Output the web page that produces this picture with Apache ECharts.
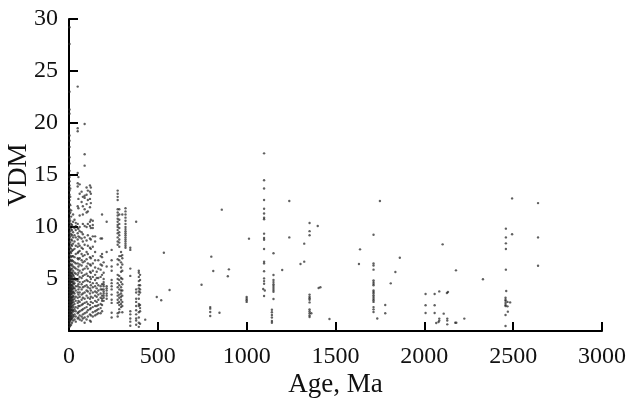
<!DOCTYPE html>
<html><head><meta charset="utf-8">
<style>html,body{margin:0;padding:0;background:#fff}#c{width:629px;height:403px}</style>
<script src="https://cdn.jsdelivr.net/npm/echarts@6/dist/echarts.min.js"></script>
</head><body><div id="c"></div>
<script>
const xTicks = [0, 500, 1000, 1500, 2000, 2500, 3000];
const yTicks = [5, 10, 15, 20, 25, 30];
const xTitle = 'Age, Ma';
const yTitle = 'VDM';

// Vertical runs of samples: one age, several VDM values
const runAges = [3, 7, 12, 17, 23, 31, 38, 49, 53, 60, 71, 78, 88, 99, 106, 118, 123, 134, 147, 156, 165, 178, 186, 195, 212, 240, 274, 283, 293, 300, 318, 345, 378, 393, 400, 6, 11, 18, 26];
const runValues = [
 [0.4,0.7,1,1.3,1.6,1.9,2.2,2.5,2.8,3.1,3.4,3.7,4,4.3,4.6,4.9,5.2,5.5,5.8,6.1,6.5,6.9,7.3,7.7,8.1,8.6,9,9.4,9.9,10.4,10.8,11.3,11.7,12.2,12.6,13.1,13.5,14,14.4,14.8,15.4,16.1,16.7,17.7,18.3,18.8,20.9,21.3,23,27.6,29.2],
 [0.5,0.9,1.2,1.5,1.8,2.1,2.4,2.7,3,3.3,3.6,3.9,4.2,4.5,4.8,5.1,5.4,5.7,6,6.4,6.8,7.2,7.6,8,8.5,9.1,9.6,10.1,10.6,11.4,12.1,12.9,13.7],
 [0.6,1.1,1.4,1.7,2,2.3,2.6,2.9,3.2,3.5,3.8,4.1,4.4,4.7,5,5.3,5.6,5.9,6.3,6.7,7.1,7.5,7.9,8.3,8.8,9.3,9.8,10.3,11,11.6],
 [0.8,1.2,1.6,2,2.4,2.8,3.2,3.6,4,4.4,4.8,5.2,5.6,6,6.4,6.8,7.2,7.7,8.2,8.7,9.2,9.7,10.2],
 [1,1.5,2,2.5,3,3.4,3.8,4.2,4.6,5,5.4,5.8,6.2,6.7,7.2,7.8,8.4,9,9.5,10,10.5,11.2],
 [1.1,1.6,2.1,2.6,3.1,3.6,4.1,4.6,5.1,5.6,6.1,6.6,7.1,7.9,8.6,9.2,9.9,10.7],
 [0.9,1.4,1.9,2.3,2.9,3.3,3.9,4.3,4.9,5.5,6,6.5,7.4,8.2,9,9.7,10.1,10.4],
 [1.2,1.7,2.2,2.7,3.2,3.7,4.3,4.8,5.4,5.9,6.5,7,7.5,8.1,8.8,9.4,9.9,10.3,12,13.9,14.2,15.2,19.2,19.5,23.5],
 [1.3,1.8,2.4,2.9,3.5,4,4.5,5,5.6,6.2,6.9,7.6,8.4,9.1,9.8,11.8,12.7,14.8],
 [1.1,1.5,1.9,2.4,2.8,3.3,3.7,4.2,4.7,5.2,5.8,6.4,7,7.7,8.2,9,9.6,10,11.1,13.2,14.1],
 [1,1.4,2,2.5,3,3.5,4,4.5,5.1,5.6,6.3,6.8,7.4,8,8.9,9.5,12.4,13.4],
 [1.2,1.6,2.1,2.6,3.2,3.6,4.2,4.7,5.3,5.9,6.6,7.2,7.9,8.6,9.3,10.3,11.2,12,12.9],
 [0.8,1.3,1.7,2.2,2.7,3.1,3.7,4.3,4.8,5.4,6,6.7,7.3,8.3,9,10.1,11.7,12.8,13,15.9,17,19.9],
 [1.1,1.8,2.3,2.8,3.4,3.9,4.4,4.9,5.5,6.2,6.9,7.6,8.7,10,11.4,12.2,13.1,13.8],
 [1.4,2,2.6,3.2,3.8,4.2,4.8,5.3,6,6.5,7.4,8.2,9.2,10.3,11.5,12.6,13.5],
 [1,1.6,2.1,2.5,3.1,3.6,4.1,4.7,5.2,5.7,6.4,7.1,8,8.9,10.1,10.5,11.9,12.7,13.4,14],
 [0.9,1.5,2.2,2.8,3.3,3.9,4.4,5,5.6,6.3,7,7.9,8.8,9.9,10.7,12.3,13.2,13.8],
 [1.4,1.8,2.3,2.7,3.2,3.7,4.2,4.6,5.2,5.8,6.5,7.2,8.1,9.1,9.9,10.2,10.6],
 [1.5,1.9,2.4,2.9,3.4,3.8,4.3,4.9,5.4,6.1,6.8,7.6,8.6,9.1],
 [1.6,2,2.4,2.8,3.3,3.7,4.1,4.6,5.1,5.7],
 [1.7,2.1,2.5,3,3.5,3.9,4.4,5.1,6,6.8],
 [1.7,2.2,2.6,3.2,3.6,4,4.3,5.2,5.9,6.4,7.2,8.9],
 [1.9,2.5,2.9,3.1,3.4,4,4.5,5.4,6.3,7.1,7.4,8.9,11.2],
 [2.9,3.2,3.4,3.6,3.8,4,4.3,4.5,4.7,5,5.6,6.6],
 [3.1,3.4,3.6,3.9,4.1,4.3,6.2,7.6,10.5],
 [1.3,1.75,2.7,3,3.5,4,4.3,4.6,4.9,5.8,6.2,6.8,7.8],
 [1.4,1.7,2.7,3,3.4,3.7,4.2,4.6,5,5.4,6.4,6.9,8.3,8.6,9,9.4,9.7,10,10.2,10.5,10.8,11.1,11.4,11.7,12.6,12.9,13.2,13.5],
 [1.8,2.1,2.5,2.8,3.2,3.5,4,4.4,4.9,5.3,6.8,7.2,8.1,8.5,8.8,9.2,9.5,9.9,10.3,10.7,11.2,11.7],
 [2.3,2.6,3,3.3,3.6,3.9,4.2,4.7,5.1,5.7,6.1,6.6,7.2,7.6],
 [1.8,2.4,2.8,3.4,3.9,4.5,5,5.8,6.4,7,7.3,11.2],
 [8,8.2,8.4,8.6,8.8,9,9.2,9.4,9.6,9.8,10,10.3,10.6,10.9,11.2,11.5,11.8],
 [0.5,0.9,1.2,1.6,1.9,5.3,6,7.8,8],
 [0.6,1,1.2,1.6,2,2.4,2.8,3.1,3.7,4,10.5],
 [0.4,0.8,1.3,1.8,2.4,2.6,3.1,3.5,3.8,4.1,4.4,4.8,5.2,5.6,5.8],
 [0.7,1.9,2.2,2.5,3.7,4,4.4,4.9,5.4],
 [1.05,1.35,1.65,1.95,2.25,2.55,2.85,3.15,3.45,3.75,4.05,4.35,4.65,4.95,5.25,5.55,5.85],
 [1.15,1.45,1.75,2.05,2.35,2.65,2.95,3.25,3.55,3.85,4.15,4.45,4.75,5.05,5.35],
 [1.3,1.8,2.2,2.7,3,3.3,3.7,4,4.3,4.7,5,5.5],
 [1.4,1.9,2.3,2.8,3.3,3.7,4.1,4.5,4.8,5.3]
];

// Sparse older samples
const oldAges = [429,494,519,534,566,746,795,795,795,795,801,812,847,860,894,900,1000,1000,1000,1000,1013,1098,1098,1098,1098,1098,1098,1098,1098,1098,1098,1098,1098,1098,1098,1098,1098,1098,1098,1093,1102,1098,1142,1142,1142,1142,1142,1142,1151,1151,1151,1151,1151,1151,1151,1151,1151,1151,1200,1240,1240,1303,1324,1324,1354,1354,1354,1354,1354,1354,1354,1354,1354,1354,1354,1354,1354,1364,1400,1405,1415,1466,1632,1638,1714,1714,1714,1714,1714,1714,1714,1714,1714,1714,1714,1714,1714,1714,1714,1714,1714,1714,1714,1735,1750,1780,1780,1811,1837,1862,2007,2007,2007,2058,2058,2058,2067,2080,2084,2084,2084,2103,2109,2127,2133,2129,2129,2129,2174,2178,2180,2225,2330,2457,2457,2457,2457,2457,2457,2457,2457,2459,2459,2459,2459,2459,2461,2468,2468,2470,2483,2494,2494,2640,2640,2640];
const oldValues = [1.09,3.27,2.95,7.53,3.94,4.45,2.3,2.15,1.83,1.44,7.15,5.77,1.76,11.67,5.26,5.93,3.27,3.1,2.95,2.8,8.88,17.08,14.5,13.7,12.6,11.76,11.3,10.9,10.74,9.36,8.94,8.78,7.88,6.67,6.5,5.74,5.06,4.8,4.55,4.04,3.9,3.37,2.05,1.8,1.55,1.3,0.96,0.8,7.47,5.38,4.9,4.7,4.5,4.33,4.13,3.94,3.78,3.08,5.87,12.5,9,6.44,6.67,8.4,10.38,9.6,9.2,3.5,3.3,3.15,3,2.75,2.08,1.9,1.7,1.5,1.35,1.7,10.1,4.13,4.2,1.15,6.44,7.85,9.26,6.5,6.3,5.9,4.87,4.7,4.55,4.4,3.9,3.75,3.6,3.43,3.27,3.1,2.95,2.8,2.3,2.08,1.83,1.2,12.5,2.5,1.7,4.58,5.67,7.05,3.56,2.47,1.73,3.56,2.47,1.73,0.77,0.87,3.81,1.19,1,8.33,1.67,3.65,3.75,1.19,1,0.64,0.8,5.83,0.8,1.19,4.97,3.2,3,2.9,2.7,2.5,2.4,1.54,0.48,9.84,9,8.43,7.88,5.9,3.85,2.8,2.37,1.86,2.75,12.75,9.3,12.3,9,6.28];

const points = [];
runAges.forEach((a, i) => runValues[i].forEach(v => points.push([a, v])));
oldAges.forEach((a, i) => points.push([a, oldValues[i]]));

const font = '"Liberation Serif","Times New Roman",serif';
const chart = echarts.init(document.getElementById('c'), null, {renderer: 'canvas'});
chart.setOption({
  animation: false,
  backgroundColor: '#fff',
  grid: {left: 69, right: 27, top: 19, bottom: 72, outerBoundsMode: 'none', containLabel: false},
  xAxis: {
    type: 'value', min: xTicks[0], max: xTicks[xTicks.length - 1], interval: 500,
    splitLine: {show: false},
    axisLine: {show: true, lineStyle: {color: '#000', width: 2}},
    axisTick: {show: true, inside: true, length: 9, lineStyle: {color: '#000', width: 2}},
    axisLabel: {color: '#111', fontFamily: font, fontSize: 24, margin: 14, hideOverlap: false, formatter: v => String(v)},
    name: xTitle, nameLocation: 'middle', nameGap: 40, nameMoveOverlap: false,
    nameTextStyle: {color: '#111', fontFamily: font, fontSize: 27}
  },
  yAxis: {
    type: 'value', min: 0, max: yTicks[yTicks.length - 1], interval: 5,
    splitLine: {show: false},
    axisLine: {show: true, lineStyle: {color: '#000', width: 2}},
    axisTick: {show: true, inside: true, length: 9, lineStyle: {color: '#000', width: 2}},
    axisLabel: {color: '#111', fontFamily: font, fontSize: 24, margin: 11, showMinLabel: false, hideOverlap: false, padding: [3, 0, 0, 0]},
    name: yTitle, nameLocation: 'middle', nameGap: 37, nameRotate: 90, nameMoveOverlap: false,
    nameTextStyle: {color: '#111', fontFamily: font, fontSize: 27}
  },
  series: [{
    type: 'scatter', data: points, symbol: 'circle', symbolSize: 2.4, clip: false,
    itemStyle: {color: '#222', opacity: 0.72}
  }]
});
</script></body></html>
